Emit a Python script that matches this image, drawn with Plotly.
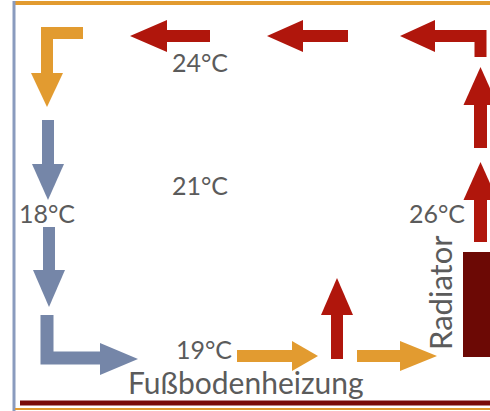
import plotly.graph_objects as go

# ---- data (labels) ----
room_temp_labels = ["24°C", "21°C", "18°C", "26°C", "19°C"]
floor_label = "Fußbodenheizung"
radiator_label = "Radiator"

ORANGE = "#E29B30"
RED = "#B0160C"
DARK = "#6C0905"
BLUE = "#7586A8"
TEXT = "#5B5B5B"

W, H = 490, 411

# ---- layout geometry (diagram positions) ----
label_pos = [(200, 62), (200, 185), (47, 213), (437, 213), (204, 349)]
floor_pos = (246, 382)
radiator_pos = (440, 293)

# arrows: (color, stem centerline points, head base, tip, head half width, stem width)
arrows = [
    (ORANGE, [(83, 33), (47, 33), (47, 74)], (47, 73), (47, 107), 16, 12),
    (BLUE,   [(48, 120), (48, 165)],         (48, 164), (48, 200), 16, 12),
    (RED,    [(210, 36), (166, 36)],         (167, 36), (130, 36), 16, 12),
    (RED,    [(348, 36), (302, 36)],         (303, 36), (267, 36), 16, 12),
    (RED,    [(480.5, 57), (480.5, 36), (434, 36)], (435, 36), (400, 36), 16, 12),
    (RED,    [(480.5, 148), (480.5, 104)],   (480.5, 105), (480.5, 67), 17, 13),
    (RED,    [(480.5, 242), (480.5, 199)],   (480.5, 200), (480.5, 162), 17, 13),
    (BLUE,   [(49, 227), (49, 271)],         (49, 270), (49, 307), 16, 12),
    (BLUE,   [(47, 315), (47, 358), (101, 358)], (100, 359), (138, 359), 16, 13),
    (ORANGE, [(237, 356), (293, 356)],       (292, 356), (318, 356), 15, 12),
    (RED,    [(337, 359), (337, 314)],       (337, 315), (337, 278), 16, 12),
    (ORANGE, [(357, 356), (401, 356)],       (400, 356), (437, 356), 15, 12),
]

shapes = []
# frame lines
shapes.append(dict(type="line", x0=13, x1=W, y0=3, y1=3, line=dict(color=ORANGE, width=4)))
shapes.append(dict(type="line", x0=14, x1=14, y0=1, y1=H, line=dict(color="#8A9BBE", width=3)))
shapes.append(dict(type="line", x0=20, x1=W, y0=403, y1=403, line=dict(color="#7A0C08", width=5)))
shapes.append(dict(type="line", x0=15, x1=W, y0=409, y1=409, line=dict(color=ORANGE, width=2)))
# radiator
shapes.append(dict(type="rect", x0=463, x1=W + 5, y0=252, y1=357, fillcolor=DARK, line=dict(width=0)))

for color, pts, base, tip, hw, sw in arrows:
    d = "M " + " L ".join(f"{x},{y}" for x, y in pts)
    shapes.append(dict(type="path", path=d, line=dict(color=color, width=sw), fillcolor="rgba(0,0,0,0)"))
    bx, by = base
    tx, ty = tip
    dx, dy = tx - bx, ty - by
    L = (dx * dx + dy * dy) ** 0.5
    px, py = -dy / L * hw, dx / L * hw
    head = f"M {bx+px},{by+py} L {tx},{ty} L {bx-px},{by-py} Z"
    shapes.append(dict(type="path", path=head, fillcolor=color, line=dict(width=0)))

FONT = "Lato"
annotations = []
for txt, (x, y) in zip(room_temp_labels, label_pos):
    annotations.append(dict(x=x, y=y, text=txt, showarrow=False, xanchor="center", yanchor="middle",
                            font=dict(family=FONT, size=25, color=TEXT)))
annotations.append(dict(x=floor_pos[0], y=floor_pos[1], text=floor_label, showarrow=False,
                        xanchor="center", yanchor="middle", font=dict(family=FONT, size=30, color=TEXT)))
annotations.append(dict(x=radiator_pos[0], y=radiator_pos[1], text=radiator_label, showarrow=False,
                        textangle=-90, xanchor="center", yanchor="middle",
                        font=dict(family=FONT, size=31, color=TEXT)))

fig = go.Figure()
fig.update_layout(
    width=W, height=H, margin=dict(l=0, r=0, t=0, b=0),
    paper_bgcolor="white", plot_bgcolor="white",
    xaxis=dict(range=[0, W], visible=False, fixedrange=True),
    yaxis=dict(range=[H, 0], visible=False, fixedrange=True),
    shapes=shapes, annotations=annotations, showlegend=False,
)
fig.write_html("out.html", config={"displayModeBar": False},
               post_script="document.body.style.margin='0';document.body.style.overflow='hidden';")
